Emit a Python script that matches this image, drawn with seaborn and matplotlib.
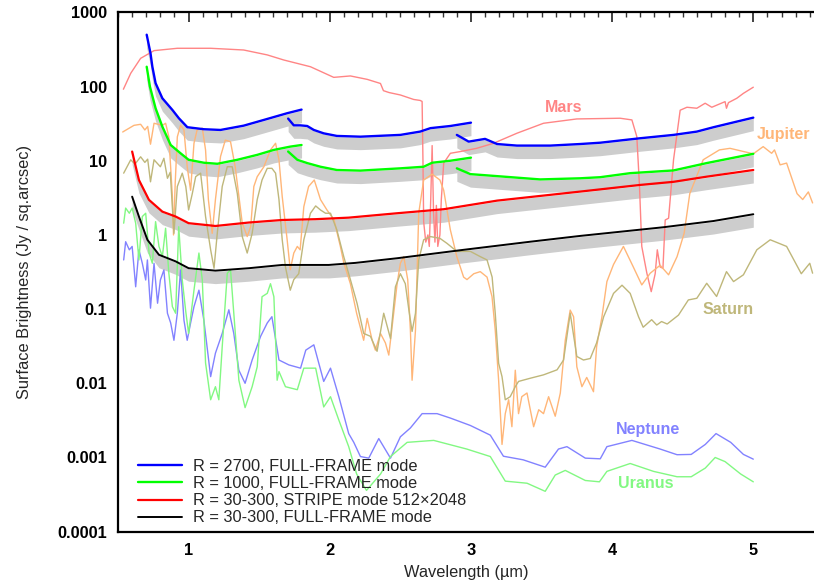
import numpy as np
import matplotlib
matplotlib.use("Agg")
import matplotlib.pyplot as plt
import seaborn as sns
from matplotlib.ticker import FixedLocator, MultipleLocator, NullLocator, FixedFormatter

sns.set_theme(style="white")
plt.rcParams["font.family"] = ["Liberation Sans", "DejaVu Sans"]

# ---------------- instrument sensitivity curves ----------------
r2700_x1 = [0.703, 0.73, 0.743, 0.766, 0.814, 0.885, 0.931, 0.991, 1.108, 1.226, 1.39, 1.533, 1.698, 1.80]
r2700_y1 = [500, 281, 186, 111, 69.5, 48.4, 37.4, 28.3, 26.6, 26.0, 29.7, 35.5, 43.7, 48.9]
r2700_x2 = [1.705, 1.745, 1.79, 1.84, 1.887, 1.957, 2.05, 2.217, 2.5, 2.64, 2.713, 2.854, 3.0]
r2700_y2 = [37.0, 30.0, 30.0, 29.4, 26.0, 23.4, 21.6, 21.1, 22.3, 24.7, 27.5, 29.4, 32.6]
r2700_x3 = [2.90, 2.984, 3.10, 3.185, 3.326, 3.562, 3.774, 3.916, 4.199, 4.435, 4.60, 4.718, 5.0]
r2700_y3 = [22.3, 18.1, 19.7, 16.8, 16.0, 16.0, 16.8, 17.5, 20.1, 22.3, 24.7, 28.3, 38.1]

r1000_x1 = [0.703, 0.726, 0.766, 0.814, 0.873, 0.943, 1.0, 1.108, 1.203, 1.345, 1.486, 1.604, 1.72, 1.80]
r1000_y1 = [185, 99.7, 51, 28.8, 16.3, 12.6, 10.3, 9.4, 9.1, 10.3, 12.0, 14.0, 15.5, 16.3]
r1000_x2 = [1.705, 1.77, 1.84, 1.934, 2.05, 2.217, 2.5, 2.665, 2.725, 2.854, 3.0]
r1000_y2 = [13.3, 10.3, 9.3, 8.3, 7.5, 7.36, 7.9, 8.3, 9.4, 10.0, 11.0]
r1000_x3 = [2.90, 2.996, 3.09, 3.49, 3.774, 3.916, 4.128, 4.435, 4.67, 5.0]
r1000_y3 = [7.9, 6.6, 6.4, 5.6, 5.8, 6.0, 6.8, 7.4, 9.3, 12.4]

stripe_x = [0.60, 0.648, 0.719, 0.814, 0.908, 1.0, 1.19, 1.427, 1.663, 1.899, 2.134, 2.477, 2.807, 3.185, 3.774, 4.199, 4.435, 4.67, 5.0]
stripe_y = [13.3, 5.5, 2.97, 2.06, 1.77, 1.44, 1.32, 1.47, 1.59, 1.63, 1.71, 1.96, 2.22, 2.9, 3.84, 4.72, 5.2, 6.1, 7.5]

full_x = [0.60, 0.648, 0.708, 0.79, 0.908, 1.0, 1.19, 1.427, 1.663, 1.993, 2.182, 2.477, 2.948, 3.42, 3.774, 4.364, 4.718, 5.0]
full_y = [3.28, 1.77, 0.86, 0.54, 0.44, 0.356, 0.33, 0.356, 0.394, 0.394, 0.42, 0.485, 0.63, 0.81, 0.97, 1.27, 1.54, 1.9]

legend_labels = ["R = 2700, FULL-FRAME mode", "R = 1000, FULL-FRAME mode",
                 "R = 30-300, STRIPE mode 512\u00d72048", "R = 30-300, FULL-FRAME mode"]

# ---------------- planet spectra ----------------
mars_x = [0.538, 0.59, 0.66, 0.755, 0.92, 1.156, 1.39, 1.557, 1.674, 1.863, 2.028, 2.146, 2.265, 2.359, 2.38,
          2.42, 2.5, 2.594, 2.64, 2.654, 2.66, 2.665, 2.68, 2.695, 2.705, 2.715, 2.725, 2.735, 2.745, 2.755,
          2.765, 2.78, 2.79, 2.807, 2.854, 2.925, 3.04, 3.16, 3.326, 3.514, 3.75, 4.057, 4.14, 4.175, 4.194,
          4.21, 4.246, 4.277, 4.305, 4.32, 4.34, 4.36, 4.376, 4.40, 4.435, 4.482, 4.53, 4.60, 4.659, 4.706,
          4.80, 4.81, 4.824, 4.883, 4.93, 5.0]
mars_y = [92, 151, 240, 305, 328, 328, 311, 267, 228, 185, 133, 139, 125, 110, 88,
          83, 77, 67, 65, 63, 10, 1.5, 0.8, 1.0, 0.7, 3.0, 16, 2.0, 0.8, 2.5,
          0.7, 1.0, 3.0, 9.3, 12.6, 13.3, 14.7, 17.2, 23.5, 32, 36.6, 37.4, 35.5, 21.1, 4.5,
          0.7, 0.305, 0.172, 0.3, 0.63, 0.37, 0.356, 1.59, 1.68, 10.3, 48, 52.6, 51, 59.6, 52.6,
          62.6, 51, 60.7, 69.5, 81, 98]

jupiter_x = [0.533, 0.613, 0.66, 0.69, 0.71, 0.73, 0.755, 0.814, 0.837, 0.86, 0.885, 0.893, 0.905, 0.92, 0.943,
             0.967, 0.99, 1.014, 1.038, 1.06, 1.097, 1.12, 1.14, 1.167, 1.19, 1.226, 1.26, 1.297, 1.33, 1.38,
             1.415, 1.44, 1.462, 1.486, 1.533, 1.58, 1.616, 1.64, 1.663, 1.698, 1.72, 1.745, 1.77, 1.79, 1.816,
             1.85, 1.89, 1.934, 1.98, 2.03, 2.075, 2.1, 2.146, 2.19, 2.24, 2.265, 2.3, 2.323, 2.359, 2.394,
             2.418, 2.453, 2.477, 2.5, 2.524, 2.552, 2.571, 2.583, 2.607, 2.63, 2.665, 2.725, 2.78, 2.807, 2.854,
             2.90, 2.948, 2.972, 3.02, 3.066, 3.114, 3.149, 3.172, 3.196, 3.22, 3.243, 3.267, 3.29, 3.314, 3.337,
             3.36, 3.397, 3.42, 3.444, 3.48, 3.514, 3.55, 3.597, 3.633, 3.668, 3.703, 3.727, 3.75, 3.786, 3.82,
             3.868, 3.89, 3.928, 3.963, 4.01, 4.08, 4.15, 4.21, 4.27, 4.34, 4.40, 4.46, 4.51, 4.55, 4.645,
             4.76, 4.835, 5.0, 5.07, 5.13, 5.15, 5.19, 5.236, 5.31, 5.35, 5.39, 5.42]
jupiter_y = [24.4, 30, 31, 26, 29, 16.7, 32, 30, 32, 21, 3.3, 1.0, 5, 21, 30,
             26, 8.3, 4.0, 17.2, 26, 27.5, 14, 3.0, 1.05, 3.0, 11.4, 19, 18, 8.3, 1.44,
             0.95, 1.3, 4.5, 6.1, 8.3, 14, 17.2, 10.3, 3.3, 0.86, 0.34, 0.57, 0.7, 0.63, 2.4,
             4.5, 5.5, 3.0, 2.17, 1.6, 0.7, 0.415, 0.22, 0.088, 0.038, 0.075, 0.038, 0.028, 0.047, 0.035,
             0.024, 0.088, 0.22, 0.415, 0.51, 0.25, 0.052, 0.011, 0.052, 1.96, 5.5, 6.6, 5.5, 4.0, 1.17,
             0.51, 0.27, 0.25, 0.3, 0.32, 0.27, 0.148, 0.052, 0.011, 0.0015, 0.0039, 0.006, 0.0026, 0.015, 0.0039,
             0.0066, 0.0074, 0.0044, 0.0026, 0.0044, 0.0039, 0.0066, 0.0036, 0.0074, 0.038, 0.097, 0.079, 0.0167, 0.009, 0.012,
             0.0077, 0.031, 0.079, 0.235, 0.4, 0.7, 0.37, 0.212, 0.305, 0.39, 0.29, 0.51, 1.05, 3.6, 10.3,
             14, 14.7, 12.4, 15.5, 12.6, 14, 8.8, 9.3, 3.6, 3.0, 3.8, 2.7]

saturn_x = [0.54, 0.59, 0.62, 0.66, 0.69, 0.71, 0.73, 0.755, 0.80, 0.825, 0.85, 0.87, 0.896, 0.92, 0.955,
            0.98, 1.0, 1.026, 1.05, 1.085, 1.12, 1.156, 1.18, 1.203, 1.238, 1.274, 1.309, 1.345, 1.38, 1.415,
            1.45, 1.486, 1.52, 1.557, 1.59, 1.616, 1.64, 1.663, 1.686, 1.72, 1.745, 1.78, 1.816, 1.863, 1.9,
            1.934, 1.97, 2.005, 2.05, 2.1, 2.146, 2.193, 2.24, 2.288, 2.335, 2.382, 2.43, 2.465, 2.5, 2.535,
            2.56, 2.583, 2.607, 2.63, 2.665, 2.713, 2.78, 2.83, 2.90, 2.996, 3.066, 3.114, 3.15, 3.172, 3.196,
            3.22, 3.243, 3.278, 3.314, 3.337, 3.42, 3.514, 3.61, 3.656, 3.703, 3.75, 3.797, 3.845, 3.89, 3.94,
            4.01, 4.07, 4.128, 4.187, 4.22, 4.28, 4.316, 4.35, 4.39, 4.47, 4.54, 4.6, 4.67, 4.74, 4.81,
            4.86, 4.93, 5.025, 5.12, 5.236, 5.34, 5.40, 5.42]
saturn_y = [6.8, 10.3, 9.0, 11.3, 9.5, 10.5, 5.2, 10.3, 8.3, 10.8, 5.8, 7.0, 1.05, 4.5, 6.8,
            4.5, 2.17, 3.6, 6.1, 6.8, 1.77, 0.63, 0.356, 1.05, 4.5, 8.3, 8.3, 3.6, 0.95, 0.57,
            1.05, 3.0, 5.5, 7.9, 7.9, 6.8, 3.0, 0.86, 0.37, 0.18, 0.25, 0.3, 0.86, 1.96, 2.46,
            2.17, 1.96, 1.96, 1.17, 0.5, 0.25, 0.12, 0.047, 0.043, 0.027, 0.088, 0.04, 0.2, 0.3, 0.22,
            0.098, 0.05, 0.088, 0.46, 0.86, 0.95, 0.9, 0.77, 0.6, 0.6, 0.51, 0.46, 0.27, 0.088, 0.0186,
            0.0123, 0.006, 0.0066, 0.009, 0.0106, 0.0117, 0.013, 0.0152, 0.0206, 0.088, 0.023, 0.0206, 0.0216, 0.035, 0.079,
            0.163, 0.21, 0.163, 0.079, 0.057, 0.072, 0.061, 0.068, 0.063, 0.083, 0.133, 0.14, 0.223, 0.148, 0.32,
            0.235, 0.29, 0.63, 0.86, 0.7, 0.3, 0.415, 0.305]

neptune_x = [0.54, 0.554, 0.58, 0.60, 0.625, 0.648, 0.672, 0.696, 0.708, 0.73, 0.755, 0.78, 0.80, 0.825, 0.85,
             0.873, 0.896, 0.92, 0.943, 0.967, 0.99, 1.014, 1.038, 1.073, 1.108, 1.156, 1.19, 1.238, 1.285, 1.32,
             1.356, 1.40, 1.45, 1.51, 1.557, 1.59, 1.64, 1.71, 1.793, 1.83, 1.887, 1.957, 2.005, 2.064, 2.134,
             2.17, 2.217, 2.276, 2.347, 2.43, 2.5, 2.571, 2.654, 2.76, 2.854, 2.996, 3.137, 3.23, 3.37, 3.526,
             3.62, 3.68, 3.81, 3.916, 3.963, 4.14, 4.34, 4.46, 4.56, 4.66, 4.736, 4.84, 4.93, 5.0]
neptune_y = [0.46, 0.81, 0.63, 0.7, 0.2, 0.63, 0.415, 0.247, 0.46, 0.103, 0.415, 0.12, 0.247, 0.337, 0.088,
             0.065, 0.038, 0.088, 0.337, 0.071, 0.038, 0.065, 0.108, 0.18, 0.071, 0.0123, 0.0255, 0.047, 0.098, 0.047,
             0.015, 0.01, 0.0206, 0.043, 0.065, 0.079, 0.0206, 0.0177, 0.016, 0.028, 0.033, 0.0106, 0.016, 0.0066, 0.0021,
             0.0016, 0.00103, 0.00098, 0.0018, 0.00098, 0.0019, 0.0025, 0.0039, 0.0039, 0.0034, 0.0027, 0.002, 0.00104, 0.00093, 0.00074,
             0.0013, 0.0014, 0.00098, 0.00096, 0.0014, 0.0017, 0.0013, 0.00109, 0.0011, 0.0015, 0.0021, 0.0016, 0.0011, 0.00095]

uranus_x = [0.54, 0.554, 0.58, 0.60, 0.625, 0.648, 0.672, 0.696, 0.72, 0.743, 0.766, 0.79, 0.814, 0.837, 0.86,
            0.885, 0.908, 0.93, 0.955, 0.98, 1.0, 1.038, 1.073, 1.097, 1.12, 1.156, 1.19, 1.214, 1.238, 1.274,
            1.297, 1.32, 1.356, 1.40, 1.45, 1.486, 1.52, 1.557, 1.58, 1.604, 1.627, 1.64, 1.686, 1.77, 1.816,
            1.9, 1.957, 2.005, 2.064, 2.134, 2.19, 2.26, 2.36, 2.43, 2.548, 2.736, 2.97, 3.137, 3.243, 3.397,
            3.526, 3.597, 3.668, 3.81, 3.91, 3.963, 4.128, 4.293, 4.46, 4.56, 4.66, 4.73, 4.80, 4.91, 5.0]
uranus_y = [1.44, 2.3, 1.96, 2.3, 1.44, 0.46, 1.77, 1.96, 0.57, 0.415, 1.51, 0.7, 0.51, 1.23, 0.305,
            0.108, 0.088, 1.29, 0.247, 0.092, 0.047, 0.18, 0.57, 0.247, 0.0188, 0.006, 0.009, 0.006, 0.031, 0.305,
            0.337, 0.088, 0.011, 0.0047, 0.009, 0.0167, 0.147, 0.163, 0.22, 0.147, 0.011, 0.0144, 0.009, 0.0082, 0.016,
            0.016, 0.0048, 0.0066, 0.0032, 0.0014, 0.0006, 0.00036, 0.0006, 0.00103, 0.0016, 0.0017, 0.0013, 0.00103, 0.00048, 0.00045,
            0.00035, 0.00058, 0.00067, 0.00049, 0.00047, 0.00065, 0.00083, 0.00065, 0.00055, 0.00055, 0.00072, 0.001, 0.00088, 0.0006, 0.00047]

planet_names = ["Mars", "Jupiter", "Saturn", "Neptune", "Uranus"]
label_x = [3.654, 5.211, 4.822, 4.255, 4.241]
label_y = [51.5, 22.3, 0.0975, 0.00236, 0.00044]

y_ticks = [1e-4, 1e-3, 1e-2, 1e-1, 1, 10, 100, 1000]
y_tick_labels = ["0.0001", "0.001", "0.01", "0.1", "1", "10", "100", "1000"]
x_ticks = [1, 2, 3, 4, 5]

# ---------------- figure ----------------
fig = plt.figure(figsize=(8.14, 5.86), dpi=100)
ax = fig.add_axes([0.145, 0.0927, 0.855, 0.8862])
ax.set_yscale("log")
ax.set_xlim(0.5, 5.43)
ax.set_ylim(1e-4, 1e3)

band_col = "#cdcdcd"
inst = [
    (r2700_x1, r2700_y1, "#0000ff", 1.7, legend_labels[0]),
    (r2700_x2, r2700_y2, "#0000ff", 1.7, None),
    (r2700_x3, r2700_y3, "#0000ff", 1.7, None),
    (r1000_x1, r1000_y1, "#00ff00", 1.7, legend_labels[1]),
    (r1000_x2, r1000_y2, "#00ff00", 1.7, None),
    (r1000_x3, r1000_y3, "#00ff00", 1.7, None),
    (stripe_x, stripe_y, "#ff0000", 1.6, legend_labels[2]),
    (full_x, full_y, "#000000", 1.4, legend_labels[3]),
]
for xs, ys, c, lw, lab in inst:
    ya = np.asarray(ys, float)
    ax.fill_between(xs, ya * 10 ** -0.175, ya * 10 ** -0.01, color=band_col, lw=0, zorder=1)

planets = [
    (mars_x, mars_y, "#ff8585"),
    (jupiter_x, jupiter_y, "#ffb678"),
    (saturn_x, saturn_y, "#bfb77a"),
    (neptune_x, neptune_y, "#8282ff"),
    (uranus_x, uranus_y, "#82f882"),
]
for xs, ys, c in planets:
    sns.lineplot(x=np.asarray(xs), y=np.asarray(ys), color=c, lw=1.0, ax=ax,
                 estimator=None, sort=False, zorder=2)

handles = {}
for xs, ys, c, lw, lab in inst:
    sns.lineplot(x=np.asarray(xs), y=np.asarray(ys), color=c, lw=lw, ax=ax,
                 estimator=None, sort=False, zorder=3)
    if lab is not None:
        handles[lab] = ax.lines[-1]

for name, lx, ly, (_, _, c) in zip(planet_names, label_x, label_y, planets):
    ax.text(lx, ly, name, color=c, fontsize=11.5, fontweight="bold", ha="center", va="center", zorder=4)

leg = ax.legend([handles[l] for l in legend_labels], legend_labels, loc="lower left",
                bbox_to_anchor=(0.029, 0.012), frameon=False, fontsize=11.8,
                handlelength=2.7, handletextpad=0.65, labelspacing=0.13,
                borderpad=0, borderaxespad=0)

ax.xaxis.set_major_locator(FixedLocator(x_ticks))
ax.xaxis.set_minor_locator(MultipleLocator(0.1))
ax.yaxis.set_major_locator(FixedLocator(y_ticks))
ax.yaxis.set_major_formatter(FixedFormatter(y_tick_labels))
ax.yaxis.set_minor_locator(NullLocator())
ax.tick_params(axis="both", which="both", direction="in", top=True, right=False, color="#333333")
ax.tick_params(which="major", length=7, width=1.3, pad=8, labelsize=11.8, labelcolor="black")
ax.tick_params(which="minor", length=3.5, width=1.0)
for t in ax.get_xticklabels() + ax.get_yticklabels():
    t.set_fontweight("bold")

for s in ["left", "top", "bottom"]:
    ax.spines[s].set_linewidth(1.6)
    ax.spines[s].set_color("black")
ax.spines["right"].set_visible(False)

ax.set_xlabel("Wavelength (\u00b5m)", fontsize=11.8)
ax.set_ylabel("Surface Brightness (Jy / sq.arcsec)", fontsize=11.8)
ax.xaxis.set_label_coords(0.5, -0.064)
ax.yaxis.set_label_coords(-0.1236, 0.5)

fig.savefig("out.png", dpi=100)
